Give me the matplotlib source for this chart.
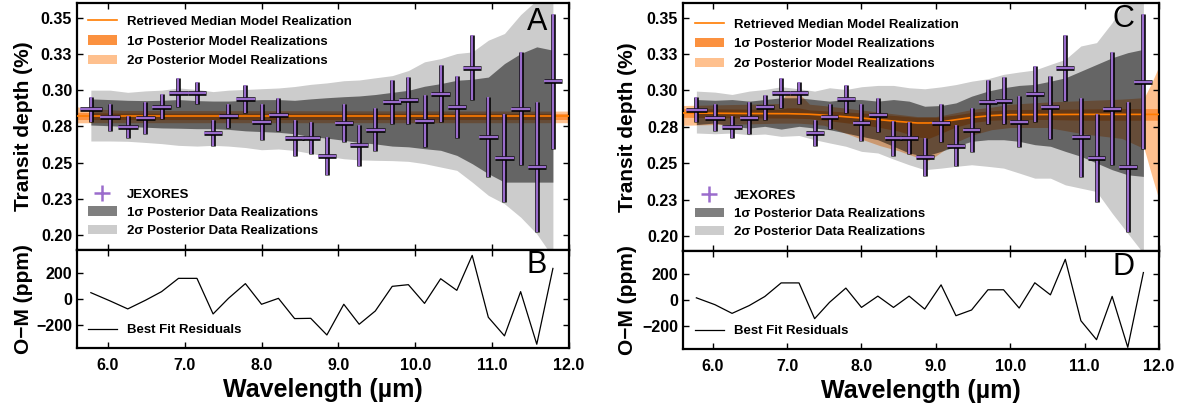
import numpy as np
import matplotlib
matplotlib.use("Agg")
import matplotlib.pyplot as plt
import matplotlib.patheffects as pe
from matplotlib.lines import Line2D
from matplotlib.patches import Patch

plt.rcParams['font.family'] = ['Liberation Sans', 'DejaVu Sans']
plt.rcParams['font.weight'] = 'bold'
plt.rcParams['axes.labelweight'] = 'bold'

# --- data (transit depth in %) ---
wl = [5.78, 6.03, 6.26, 6.49, 6.70, 6.92, 7.16, 7.37, 7.57, 7.79, 8.00, 8.22, 8.43, 8.64, 8.85,
      9.07, 9.27, 9.48, 9.70, 9.91, 10.12, 10.33, 10.54, 10.74, 10.95, 11.16, 11.37, 11.58, 11.79]
wl_half = [0.14, 0.13, 0.13, 0.12, 0.12, 0.12, 0.12, 0.12, 0.12, 0.12, 0.12, 0.12, 0.12, 0.12, 0.12,
           0.12, 0.12, 0.12, 0.12, 0.12, 0.12, 0.12, 0.12, 0.12, 0.12, 0.12, 0.12, 0.12, 0.12]
depth = [0.2867, 0.2813, 0.2747, 0.2809, 0.2885, 0.2982, 0.2982, 0.2705, 0.2820, 0.2940, 0.2779,
         0.2832, 0.2671, 0.2673, 0.2545, 0.2776, 0.2620, 0.2728, 0.2919, 0.2930, 0.2786, 0.2976,
         0.2884, 0.3155, 0.2678, 0.2533, 0.2873, 0.2472, 0.3060]
depth_err = [0.0085, 0.0091, 0.0075, 0.0108, 0.0086, 0.0100, 0.0075, 0.0090, 0.0083, 0.0097, 0.0124,
             0.0116, 0.0121, 0.0109, 0.0130, 0.0132, 0.0142, 0.0149, 0.0152, 0.0161, 0.0178, 0.0194,
             0.0216, 0.0226, 0.0273, 0.0303, 0.0389, 0.0446, 0.0462]

# residuals (ppm)
resid_a = [49, -15, -77, -10, 57, 160, 160, -116, 5, 119, -41, 5, -152, -150, -279, -41, -196, -93,
           98, 111, -34, 157, 67, 338, -142, -286, 57, -351, 237]
resid_c = [15, -38, -105, -45, 25, 130, 130, -146, -20, 90, -59, 28, -59, 28, -72, 115, -123, -79,
           77, 77, -64, 131, 38, 312, -162, -308, 26, -367, 210]

# posterior data realization bands, panel A (at data wavelengths)
a_2lo = [0.2650, 0.2650, 0.2648, 0.2640, 0.2632, 0.2620, 0.2615, 0.2620, 0.2615, 0.2605, 0.2590,
         0.2595, 0.2585, 0.2565, 0.2545, 0.2528, 0.2520, 0.2517, 0.2515, 0.2510, 0.2494, 0.2471,
         0.2448, 0.2367, 0.2276, 0.2218, 0.2126, 0.2011, 0.1850]
a_1lo = [0.2760, 0.2755, 0.2750, 0.2745, 0.2740, 0.2738, 0.2735, 0.2735, 0.2730, 0.2720, 0.2715,
         0.2710, 0.2700, 0.2680, 0.2670, 0.2655, 0.2640, 0.2630, 0.2615, 0.2610, 0.2597, 0.2586,
         0.2551, 0.2494, 0.2425, 0.2367, 0.2367, 0.2367, 0.2367]
a_1hi = [0.2940, 0.2935, 0.2930, 0.2928, 0.2930, 0.2935, 0.2928, 0.2925, 0.2925, 0.2930, 0.2935,
         0.2935, 0.2930, 0.2940, 0.2948, 0.2955, 0.2960, 0.2970, 0.2985, 0.2999, 0.3027, 0.3045,
         0.3068, 0.3075, 0.3090, 0.3183, 0.3252, 0.3298, 0.3275]
a_2hi = [0.3000, 0.3000, 0.2985, 0.2995, 0.3000, 0.3015, 0.3005, 0.2990, 0.3000, 0.3005, 0.3010,
         0.3015, 0.3025, 0.3040, 0.3050, 0.3065, 0.3070, 0.3085, 0.3100, 0.3135, 0.3195, 0.3217,
         0.3252, 0.3263, 0.3344, 0.3390, 0.3520, 0.3620, 0.3650]

# posterior data realization bands, panel C
c_2lo = [0.2707, 0.2702, 0.2707, 0.2695, 0.2700, 0.2684, 0.2690, 0.2661, 0.2639, 0.2616, 0.2581,
         0.2570, 0.2528, 0.2489, 0.2455, 0.2466, 0.2478, 0.2489, 0.2478, 0.2466, 0.2432, 0.2397,
         0.2397, 0.2351, 0.2328, 0.2305, 0.2156, 0.2018, 0.1880]
c_1lo = [0.2765, 0.2776, 0.2753, 0.2741, 0.2753, 0.2734, 0.2753, 0.2741, 0.2730, 0.2707, 0.2684,
         0.2661, 0.2616, 0.2570, 0.2547, 0.2581, 0.2616, 0.2650, 0.2661, 0.2661, 0.2650, 0.2627,
         0.2616, 0.2581, 0.2547, 0.2501, 0.2455, 0.2420, 0.2409]
c_1hi = [0.2937, 0.2932, 0.2937, 0.2926, 0.2937, 0.2949, 0.2949, 0.2937, 0.2926, 0.2937, 0.2937,
         0.2926, 0.2937, 0.2926, 0.2891, 0.2896, 0.2914, 0.2960, 0.2995, 0.3018, 0.3034, 0.3041,
         0.3063, 0.3086, 0.3132, 0.3178, 0.3224, 0.3259, 0.3282]
c_2hi = [0.2995, 0.2988, 0.2972, 0.2995, 0.3006, 0.3025, 0.3011, 0.2995, 0.3018, 0.3006, 0.3025,
         0.3034, 0.3034, 0.3018, 0.3011, 0.3024, 0.3040, 0.3063, 0.3080, 0.3110, 0.3126, 0.3140,
         0.3178, 0.3213, 0.3305, 0.3328, 0.3466, 0.3650, 0.3700]

# retrieved model, panel A
ma_wl = [5.6, 5.8, 6.2, 11.8, 12.0]
ma_med = [0.2820, 0.2820, 0.2820, 0.2820, 0.2820]
ma_1lo = [0.2798, 0.2798, 0.2798, 0.2798, 0.2798]
ma_1hi = [0.2848, 0.2845, 0.2842, 0.2840, 0.2840]
ma_2lo = [0.2775, 0.2776, 0.2776, 0.2776, 0.2776]
ma_2hi = [0.2885, 0.2872, 0.2860, 0.2856, 0.2856]

# retrieved model, panel C
mc_wl = [5.6, 6.0, 6.5, 6.9, 7.0, 7.15, 7.3, 7.5, 8.0, 8.25, 8.5, 8.75, 8.9, 9.0, 9.25, 9.5, 9.75,
         10.0, 10.5, 11.0, 11.5, 11.8, 11.9, 12.0]
mc_med = [0.2845, 0.2843, 0.2841, 0.2840, 0.2840, 0.2838, 0.2836, 0.2830, 0.2810, 0.2798, 0.2786,
          0.2776, 0.2776, 0.2778, 0.2797, 0.2815, 0.2827, 0.2833, 0.2834, 0.2835, 0.2835, 0.2835,
          0.2835, 0.2835]
mc_1lo = [0.2815, 0.2813, 0.2811, 0.2810, 0.2810, 0.2808, 0.2806, 0.2795, 0.2765, 0.2745, 0.2720,
          0.2680, 0.2670, 0.2690, 0.2745, 0.2780, 0.2795, 0.2800, 0.2800, 0.2795, 0.2795, 0.2795,
          0.2795, 0.2795]
mc_1hi = [0.2875, 0.2873, 0.2871, 0.2870, 0.2880, 0.2880, 0.2866, 0.2860, 0.2845, 0.2835, 0.2825,
          0.2815, 0.2815, 0.2815, 0.2830, 0.2850, 0.2860, 0.2868, 0.2870, 0.2872, 0.2875, 0.2875,
          0.2875, 0.2875]
mc_2lo = [0.2760, 0.2765, 0.2770, 0.2775, 0.2775, 0.2775, 0.2770, 0.2760, 0.2665, 0.2620, 0.2585,
          0.2540, 0.2520, 0.2550, 0.2640, 0.2695, 0.2730, 0.2745, 0.2745, 0.2700, 0.2670, 0.2600,
          0.2420, 0.2248]
mc_2hi = [0.2896, 0.2900, 0.2905, 0.2910, 0.2985, 0.2985, 0.2905, 0.2895, 0.2865, 0.2850, 0.2835,
          0.2820, 0.2820, 0.2820, 0.2845, 0.2870, 0.2885, 0.2905, 0.2920, 0.2930, 0.2940, 0.2950,
          0.3050, 0.3167]

ytick_vals = [0.20, 0.225, 0.25, 0.275, 0.30, 0.325, 0.35]
ytick_labels = ['0.20', '0.23', '0.25', '0.28', '0.30', '0.33', '0.35']
xtick_vals = [6, 7, 8, 9, 10, 11, 12]
xtick_labels = ['6.0', '7.0', '8.0', '9.0', '10.0', '11.0', '12.0']

PURPLE = '#9a6ccc'
ORANGE = '#ff7b00'
ORANGE1 = '#fb913f'
ORANGE2 = '#fec08e'


def style_axes(ax):
    ax.tick_params(direction='in', top=True, right=True, length=4, width=1.0, labelsize=11.5)
    ax.tick_params(axis='x', pad=7.5)
    ax.tick_params(axis='y', pad=3.5)
    for s in ax.spines.values():
        s.set_linewidth(1.6)


def draw_panel(ax, ax_r, m_wl, m_med, m_1lo, m_1hi, m_2lo, m_2hi,
               d_2lo, d_1lo, d_1hi, d_2hi, resid, letters, lab_x, leg_x, leg_y):
    ax.fill_between(m_wl, m_2lo, m_2hi, color=ORANGE2, lw=0, zorder=1)
    ax.fill_between(m_wl, m_1lo, m_1hi, color=ORANGE1, lw=0, zorder=1.1)
    ax.fill_between(wl, d_2lo, d_2hi, color='k', alpha=0.2, lw=0, zorder=2)
    ax.fill_between(wl, d_1lo, d_1hi, color='k', alpha=0.5, lw=0, zorder=2.1)
    ax.plot(m_wl, m_med, color=ORANGE, lw=1.2, zorder=3)

    stroke = [pe.Stroke(linewidth=3.3, foreground='k'), pe.Normal()]
    eb1 = ax.errorbar(wl, depth, yerr=depth_err, fmt='none', ecolor=PURPLE, elinewidth=1.7,
                      capsize=0, zorder=4)
    eb1.lines[2][0].set_path_effects(stroke)
    eb2 = ax.errorbar(wl, depth, xerr=wl_half, fmt='none', ecolor=PURPLE, elinewidth=1.7,
                      capsize=0, zorder=4.1)
    eb2.lines[2][0].set_path_effects(stroke)

    ax.set_xlim(5.6, 12.0)
    ax.set_ylim(0.19, 0.36)
    ax.set_yticks(ytick_vals)
    ax.set_yticklabels(ytick_labels)
    ax.set_xticks(xtick_vals)
    style_axes(ax)
    ax.tick_params(labelbottom=False)
    ax.set_ylabel('Transit depth (%)', fontsize=15)
    ax.yaxis.set_label_coords(lab_x, 0.5)

    h_model = [Line2D([], [], color=ORANGE, lw=1.2),
               Patch(facecolor=ORANGE1, edgecolor='none'),
               Patch(facecolor=ORANGE2, edgecolor='none')]
    leg1 = ax.legend(h_model, ['Retrieved Median Model Realization',
                               '1σ Posterior Model Realizations',
                               '2σ Posterior Model Realizations'],
                     loc='upper left', bbox_to_anchor=(leg_x, leg_y[0]), frameon=False,
                     fontsize=9.5, borderpad=0, borderaxespad=0, handlelength=2.2,
                     handletextpad=0.75, labelspacing=0.55)
    ax.add_artist(leg1)
    h_data = [Line2D([], [], marker='+', ls='none', color=PURPLE, ms=12, mew=1.8),
              Patch(facecolor='k', alpha=0.5, edgecolor='none'),
              Patch(facecolor='k', alpha=0.2, edgecolor='none')]
    ax.legend(h_data, ['JEXORES', '1σ Posterior Data Realizations',
                       '2σ Posterior Data Realizations'],
              loc='lower left', bbox_to_anchor=(leg_x, leg_y[1]), frameon=False,
              fontsize=9.5, borderpad=0, borderaxespad=0, handlelength=2.2,
              handletextpad=0.75, labelspacing=0.45)
    ax.text(letters[2], letters[3], letters[0], transform=ax.transAxes, ha='center', va='center',
            fontsize=22, fontweight='normal')

    ax_r.plot(wl, resid, color='k', lw=0.9)
    ax_r.set_xlim(5.6, 12.0)
    ax_r.set_ylim(-380, 380)
    ax_r.set_yticks([-200, 0, 200])
    ax_r.set_xticks(xtick_vals)
    ax_r.set_xticklabels(xtick_labels)
    style_axes(ax_r)
    ax_r.set_ylabel('O\u2212M (ppm)', fontsize=15)
    ax_r.yaxis.set_label_coords(lab_x, 0.5)
    ax_r.set_xlabel('Wavelength (µm)', fontsize=18)
    ax_r.legend([Line2D([], [], color='k', lw=0.9)], ['Best Fit Residuals'],
                loc='lower left', bbox_to_anchor=(leg_x, leg_y[2]), frameon=False,
                fontsize=9.5, borderpad=0, borderaxespad=0, handlelength=2.2,
                handletextpad=0.75)
    ax_r.text(letters[2], letters[4], letters[1], transform=ax_r.transAxes, ha='center',
              va='center', fontsize=22, fontweight='normal')


fig = plt.figure(figsize=(11.94, 4.08), dpi=100)
ax_a = fig.add_axes([0.0645, 0.3873, 0.4121, 0.6054])
ax_b = fig.add_axes([0.0645, 0.1471, 0.4121, 0.2402])
ax_c = fig.add_axes([0.5720, 0.3860, 0.3987, 0.6066])
ax_d = fig.add_axes([0.5720, 0.1446, 0.3987, 0.2414])

draw_panel(ax_a, ax_b, ma_wl, ma_med, ma_1lo, ma_1hi, ma_2lo, ma_2hi,
           a_2lo, a_1lo, a_1hi, a_2hi, resid_a, ('A', 'B', 0.935, 0.923, 0.847),
           -0.090, 0.022, (0.948, 0.053, 0.12))
draw_panel(ax_c, ax_d, mc_wl, mc_med, mc_1lo, mc_1hi, mc_2lo, mc_2hi,
           c_2lo, c_1lo, c_1hi, c_2hi, resid_c, ('C', 'D', 0.926, 0.935, 0.837),
           -0.097, 0.025, (0.937, 0.05, 0.12))

ax_b.xaxis.set_label_coords(0.5, -0.306)
ax_b.xaxis.label.set_va('top')
ax_d.xaxis.set_label_coords(0.5, -0.306)
ax_d.xaxis.label.set_va('top')

fig.savefig('out.png', dpi=100)
